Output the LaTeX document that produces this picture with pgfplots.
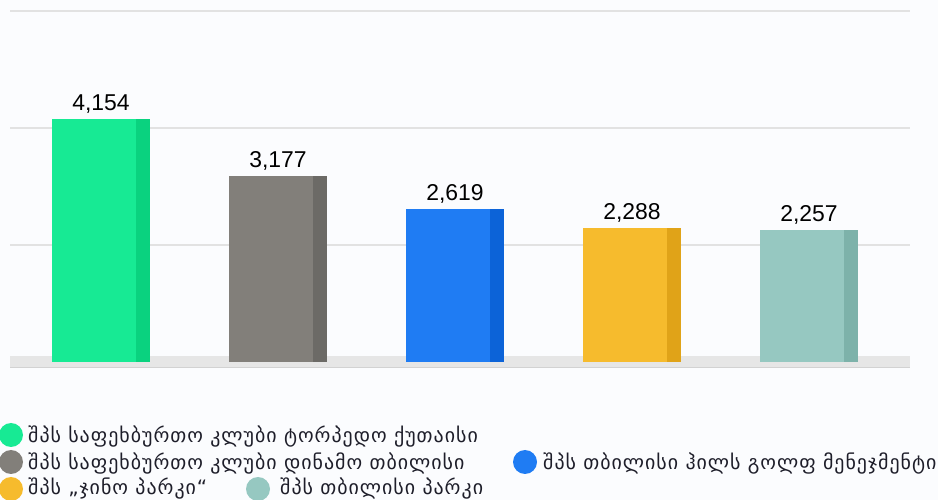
\documentclass[border=0pt]{standalone}
\usepackage{pgfplots}
\pgfplotsset{compat=1.18}
\usepackage{fontspec}
\setmainfont{Liberation Sans}
\newfontfamily\geo[LetterSpace=5]{DejaVu Sans}
\definecolor{bg}{HTML}{FBFCFE}
\definecolor{gridc}{HTML}{E2E2E2}
\definecolor{floorc}{HTML}{E6E6E6}
\definecolor{floore}{HTML}{D2D2D2}
\definecolor{cA}{HTML}{17EA94}\definecolor{sA}{HTML}{0AD27F}
\definecolor{cB}{HTML}{827F7A}\definecolor{sB}{HTML}{6C6A66}
\definecolor{cC}{HTML}{1F7CF3}\definecolor{sC}{HTML}{0C63D8}
\definecolor{cD}{HTML}{F6BB2D}\definecolor{sD}{HTML}{E0A318}
\definecolor{cE}{HTML}{96C8C1}\definecolor{sE}{HTML}{7DB2AA}
\definecolor{txt}{HTML}{1E1E2A}
\begin{document}
\begin{tikzpicture}
\fill[bg] (0,0) rectangle (938bp,500bp);
\path[use as bounding box] (0,0) rectangle (938bp,500bp);
\begin{axis}[
  at={(10bp,138bp)}, anchor=south west,
  scale only axis, width=900bp, height=351bp,
  xmin=-0.4746, xmax=4.610, ymin=0, ymax=6000,
  axis lines=none, clip=false,
  ytick={2000,4000,6000}, xtick=\empty,
  ybar, bar width=84bp,
  /pgf/number format/.cd, fixed, precision=0, 1000 sep={,}, assume math mode=true,
]
% floor slab
\fill[floorc] ([yshift=6bp]axis cs:-0.4746,0) rectangle ([yshift=-5bp]axis cs:4.610,0);
\draw[floore, line width=0.8bp] ([yshift=-5bp]axis cs:-0.4746,0) -- ([yshift=-5bp]axis cs:4.610,0);
% grid lines
\draw[gridc, line width=1.5bp] (axis cs:-0.4746,2000) -- (axis cs:4.610,2000);
\draw[gridc, line width=1.5bp] (axis cs:-0.4746,4000) -- (axis cs:4.610,4000);
\draw[gridc, line width=1.5bp] (axis cs:-0.4746,6000) -- (axis cs:4.610,6000);
% side faces
\addplot[fill=sA, draw=none, bar width=14bp, bar shift=49bp] coordinates {(0,4154)};
\addplot[fill=sB, draw=none, bar width=14bp, bar shift=49bp] coordinates {(1,3177)};
\addplot[fill=sC, draw=none, bar width=14bp, bar shift=49bp] coordinates {(2,2619)};
\addplot[fill=sD, draw=none, bar width=14bp, bar shift=49bp] coordinates {(3,2288)};
\addplot[fill=sE, draw=none, bar width=14bp, bar shift=49bp] coordinates {(4,2257)};
% front faces
\pgfplotsset{every node near coord/.append style={font=\fontsize{23}{26}\selectfont, text=black, xshift=7bp, anchor=south, yshift=2bp}}
\addplot[fill=cA, draw=none, bar shift=0pt, nodes near coords] coordinates {(0,4154)};
\addplot[fill=cB, draw=none, bar shift=0pt, nodes near coords] coordinates {(1,3177)};
\addplot[fill=cC, draw=none, bar shift=0pt, nodes near coords] coordinates {(2,2619)};
\addplot[fill=cD, draw=none, bar shift=0pt, nodes near coords] coordinates {(3,2288)};
\addplot[fill=cE, draw=none, bar shift=0pt, nodes near coords] coordinates {(4,2257)};
\end{axis}
% legend
\begin{scope}[every node/.style={anchor=west, inner sep=0pt, text=txt, font=\geo\fontsize{20}{22}\selectfont}]
\fill[cA] (11bp,65bp) circle (12bp);
\node at (28bp,63bp) {შპს საფეხბურთო კლუბი ტორპედო ქუთაისი};
\fill[cB] (11bp,38bp) circle (12bp);
\node at (28bp,36bp) {შპს საფეხბურთო კლუბი დინამო თბილისი};
\fill[cC] (525bp,38bp) circle (12bp);
\node at (543bp,36bp) {შპს თბილისი ჰილს გოლფ მენეჯმენტი};
\fill[cD] (11bp,11bp) circle (12bp);
\node at (28bp,11bp) {შპს „ჯინო პარკი“};
\fill[cE] (258bp,11bp) circle (12bp);
\node at (280bp,11bp) {შპს თბილისი პარკი};
\end{scope}
\end{tikzpicture}
\end{document}
